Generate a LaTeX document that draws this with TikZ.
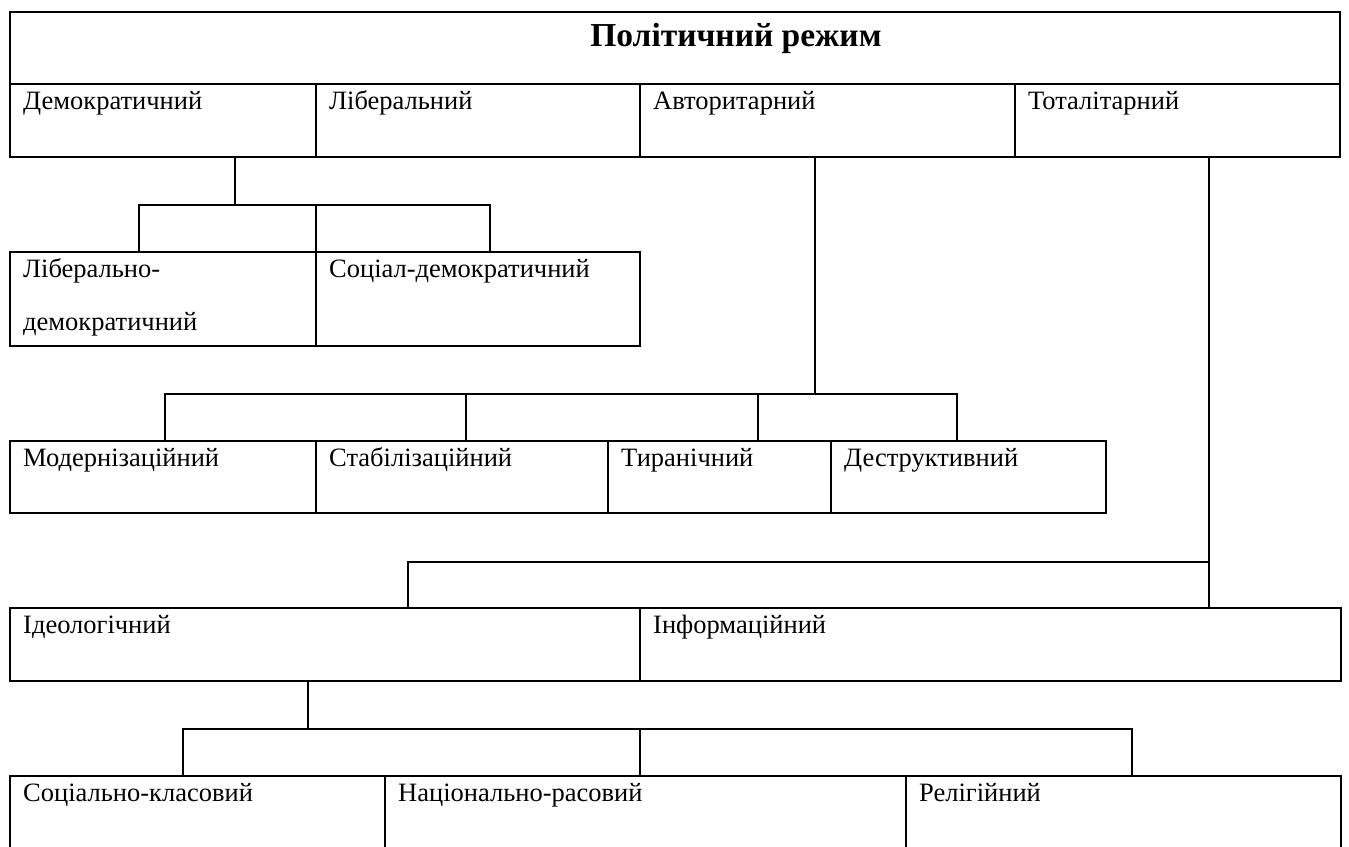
\documentclass[tikz,border=0pt]{standalone}
\usepackage{fontspec}
\setmainfont{Liberation Serif}
\begin{document}
\begin{tikzpicture}[x=1pt,y=-1pt,
  box/.style={draw, line width=1.5pt, anchor=north west, inner sep=0pt, outer sep=0pt},
  txt/.style={anchor=base west, inner sep=0pt, font=\fontsize{26.5}{45}\selectfont},
  ttl/.style={anchor=base, inner sep=0pt, font=\fontsize{33.5}{40}\selectfont\bfseries},
  conn/.style={draw, line width=1.5pt, line cap=rect}]
\clip (0,0) rectangle (1349,846);
\fill[white] (0,0) rectangle (1349,846);

% a box with its caption in the upper left corner
\newcommand\cellbox[6]{%
  \node[box, minimum width=#4pt, minimum height=#5pt] (#1) at (#2,#3) {};
  \node[txt] (#1t) at ([xshift=13pt,yshift=-25pt]#1.north west) {#6};}

% title
\node[box, minimum width=1330pt, minimum height=72pt] (root) at (10,12) {};
\node[ttl] (roott) at (736,46) {Політичний режим};

% first row: the four regimes
\cellbox{dem}{10}{84}{306}{73}{Демократичний}
\cellbox{lib}{316}{84}{324}{73}{Ліберальний}
\cellbox{avt}{640}{84}{375}{73}{Авторитарний}
\cellbox{tot}{1015}{84}{325}{73}{Тоталітарний}

% democratic kinds
\cellbox{libdem}{10}{252}{306}{94}{\begin{tabular}[t]{@{}l@{}}Ліберально-\\[8pt]демократичний\end{tabular}}
\cellbox{socdem}{316}{252}{324}{94}{Соціал-демократичний}

% authoritarian kinds
\cellbox{mod}{10}{441}{306}{72}{Модернізаційний}
\cellbox{stab}{316}{441}{292}{72}{Стабілізаційний}
\cellbox{tyr}{608}{441}{223}{72}{Тиранічний}
\cellbox{destr}{831}{441}{275}{72}{Деструктивний}

% totalitarian kinds
\cellbox{ideo}{10}{608}{630}{73}{Ідеологічний}
\cellbox{info}{640}{608}{701}{73}{Інформаційний}

% ideological kinds
\cellbox{soc}{10}{776}{375}{100}{Соціально-класовий}
\cellbox{nat}{385}{776}{521}{100}{Національно-расовий}
\cellbox{rel}{906}{776}{435}{100}{Релігійний}

% junction points of the connectors
\coordinate (jd) at (235,205);
\coordinate (ja) at (815,394);
\coordinate (jt) at (1209,562);
\coordinate (ji) at (308,729);

% democratic branch
\draw[conn] (jd |- dem.south) -- (jd);
\draw[conn] (139,252) |- (jd) -| (490,252);
\draw[conn] (libdem.north east) -- (libdem.north east |- jd);

% authoritarian branch
\draw[conn] (ja |- avt.south) -- (ja);
\draw[conn] (165,441) |- (ja) -| (957,441);
\draw[conn] (466,441) -- (466,394);
\draw[conn] (758,441) -- (758,394);

% totalitarian branch
\draw[conn] (jt |- tot.south) -- (jt |- info.north);
\draw[conn] (408,608) |- (jt);

% ideological branch
\draw[conn] (ji |- ideo.south) -- (ji);
\draw[conn] (183,776) |- (ji) -| (1132,776);
\draw[conn] (nat.north -| info.north west) -- (ji -| info.north west);
\end{tikzpicture}
\end{document}
